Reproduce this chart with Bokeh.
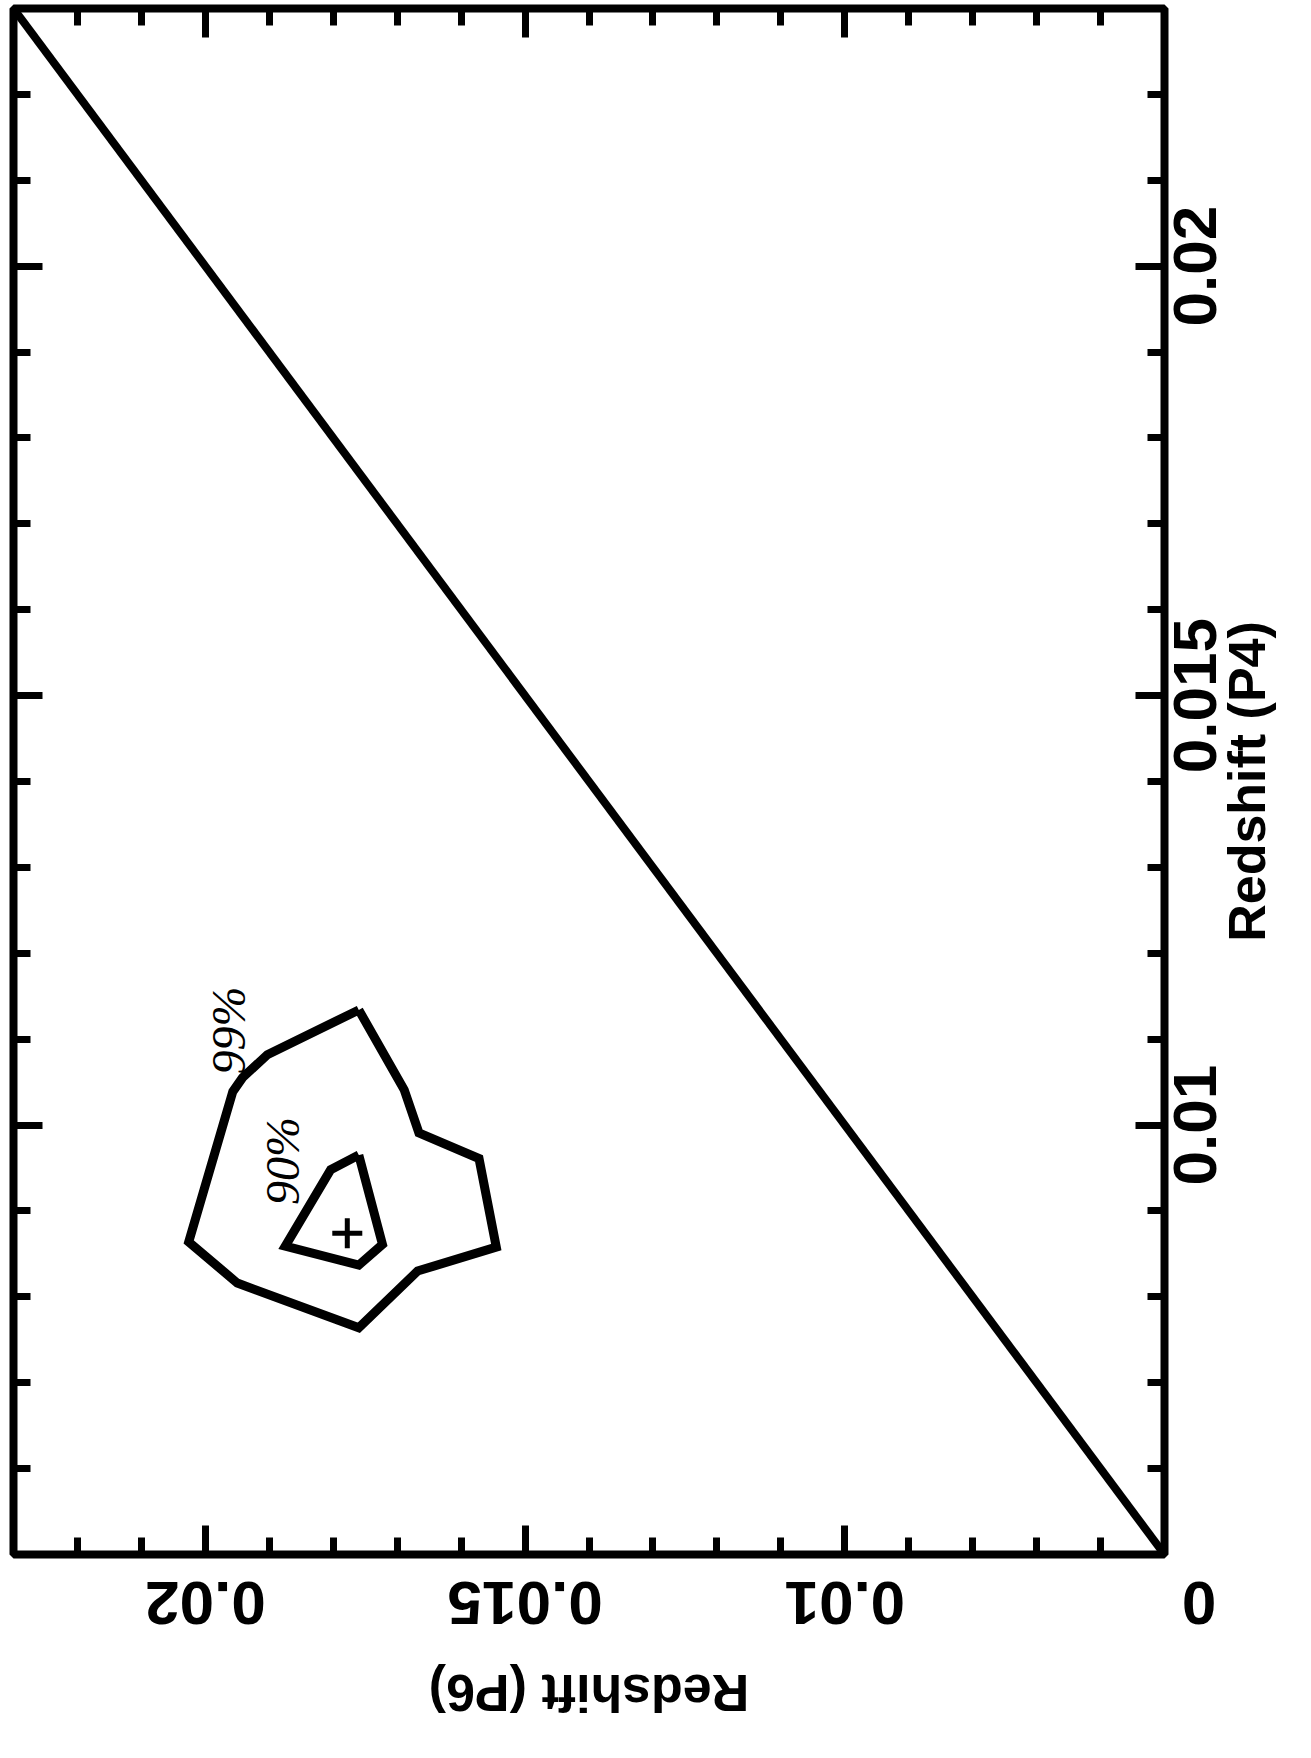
from math import pi
from bokeh.plotting import figure
from bokeh.models import Range1d, LinearAxis, FixedTicker, CustomLabelingPolicy
from bokeh.core.properties import value
from bokeh.embed import file_html
from bokeh.resources import INLINE

# ---------------- data ----------------
P_MIN = 0.005
P_MAX = 0.023
P_MID = 0.014
major_ticks = [0.005, 0.01, 0.015, 0.02]
minor_ticks = [0.005, 0.006, 0.007, 0.008, 0.009, 0.010, 0.011, 0.012, 0.013,
               0.014, 0.015, 0.016, 0.017, 0.018, 0.019, 0.020, 0.021, 0.022, 0.023]
label_ticks = [0.01, 0.015, 0.02]
tick_labels = ["0.01", "0.015", "0.02"]
corner_tick = 0.005
corner_label = "0\u00a0"

# equality line P6 = P4
diag_p6 = [0.005, 0.023]
diag_p4 = [0.005, 0.023]

# 99% confidence contour
c99_p6 = [0.01760, 0.01903, 0.01942, 0.01957, 0.02026, 0.01950, 0.01760,
          0.01668, 0.01545, 0.01572, 0.01666, 0.01689, 0.01760]
c99_p4 = [0.01134, 0.01082, 0.01055, 0.01039, 0.00864, 0.00816, 0.00764,
          0.00830, 0.00858, 0.00961, 0.00991, 0.01041, 0.01134]

# 90% confidence contour
c90_p6 = [0.01760, 0.01804, 0.01875, 0.01760, 0.01723, 0.01760]
c90_p4 = [0.00965, 0.00948, 0.00859, 0.00837, 0.00861, 0.00965]

# best fit
best_p6 = [0.01778]
best_p4 = [0.00874]

contour_labels = ["99%", "90%"]
label_p6 = [0.01964, 0.01879]
label_p4 = [0.01110, 0.00958]

x_title = "Redshift (P6)"
y_title = "Redshift (P4)"

# ---------------- layout ----------------
W, H = 1310, 1756
BL, BT, BR, BB = 13, 8, 146, 202
FRAME_W = W - BL - BR
FRAME_H = H - BT - BB
TICK_FONT = 62
TITLE_FONT = 52
# Liberation Sans Bold advance widths (em)
ADV = {"0": 0.556, "1": 0.556, "2": 0.556, "4": 0.556, "5": 0.556, "6": 0.556,
       ".": 0.278, "R": 0.722, "e": 0.556, "d": 0.611, "s": 0.556, "h": 0.611,
       "i": 0.278, "f": 0.333, "t": 0.333, " ": 0.278, "(": 0.333, ")": 0.333,
       "P": 0.667}


def half_len(s, size):
    return sum(ADV[c] for c in s) * size / 2.0


dpp_x = (P_MAX - P_MIN) / FRAME_W
dpp_y = (P_MAX - P_MIN) / FRAME_H
# rotated labels are anchored at one end: shift anchors so the text centres on its tick
right_pos = [t - half_len(s, TICK_FONT) * dpp_y for t, s in zip(label_ticks, tick_labels)]
bottom_pos = [t + half_len(s, TICK_FONT) * dpp_x for t, s in zip(label_ticks, tick_labels)]
right_title_pos = P_MID - half_len(y_title, TITLE_FONT) * dpp_y
bottom_title_pos = P_MID + half_len(x_title, TITLE_FONT) * dpp_x

p = figure(width=W, height=H,
           x_range=Range1d(P_MAX, P_MIN), y_range=Range1d(P_MIN, P_MAX),
           x_axis_location=None, y_axis_location=None,
           output_backend="svg", toolbar_location=None,
           min_border_left=BL, min_border_top=BT,
           min_border_right=BR, min_border_bottom=BB)
p.background_fill_color = "white"
p.border_fill_color = "white"
p.outline_line_color = "black"
p.outline_line_width = 8
p.grid.visible = False

HIDE_ALL = """
try { for (let i = 0; i < indices.size; i++) { indices.unset(i) } } catch (e) {}
return indices
"""


def tick_axis():
    ax = LinearAxis(ticker=FixedTicker(ticks=major_ticks, minor_ticks=minor_ticks))
    ax.axis_line_color = None
    ax.major_tick_in = 29
    ax.major_tick_out = 0
    ax.minor_tick_in = 17
    ax.minor_tick_out = 0
    ax.major_tick_line_width = 7
    ax.minor_tick_line_width = 7
    ax.major_tick_line_color = "black"
    ax.minor_tick_line_color = "black"
    ax.major_label_overrides = {t: "" for t in major_ticks}
    ax.major_label_text_font_size = "0px"
    ax.major_label_standoff = 0
    ax.major_label_policy = CustomLabelingPolicy(code=HIDE_ALL)
    return ax


def label_axis(positions, labels, orientation, standoff, size):
    ax = LinearAxis(ticker=FixedTicker(ticks=positions, minor_ticks=[]))
    ax.axis_line_color = None
    ax.major_tick_in = 0
    ax.major_tick_out = 0
    ax.minor_tick_in = 0
    ax.minor_tick_out = 0
    ax.major_tick_line_color = None
    ax.minor_tick_line_color = None
    ax.major_label_overrides = dict(zip(positions, labels))
    ax.major_label_text_font = "Liberation Sans"
    ax.major_label_text_font_style = "bold"
    ax.major_label_text_font_size = f"{size}px"
    ax.major_label_text_color = "black"
    ax.major_label_orientation = orientation
    ax.major_label_standoff = standoff
    return ax


# bottom: ticks | title | tick labels (pulled back inwards with a negative standoff)
p.add_layout(tick_axis(), "below")
p.add_layout(label_axis([bottom_title_pos], [x_title], pi, 138, TITLE_FONT), "below")
p.add_layout(label_axis(bottom_pos + [corner_tick], tick_labels + [corner_label],
                        pi, -150, TICK_FONT), "below")
p.add_layout(tick_axis(), "above")
p.add_layout(tick_axis(), "left")
# right: ticks | title | tick labels
p.add_layout(tick_axis(), "right")
p.add_layout(label_axis([right_title_pos], [y_title], pi / 2, 83, TITLE_FONT), "right")
p.add_layout(label_axis(right_pos, tick_labels, pi / 2, -113, TICK_FONT), "right")

# equality line
p.line(diag_p6, diag_p4, line_color="black", line_width=8)

# contours
p.line(c99_p6, c99_p4, line_color="black", line_width=9, line_join="miter")
p.line(c90_p6, c90_p4, line_color="black", line_width=9, line_join="miter")

# best fit
p.scatter(best_p6, best_p4, marker="cross", size=30, line_width=5,
          line_color="black")

# contour labels
p.text(label_p6, label_p4, text=contour_labels, angle=pi / 2,
       text_font=value("Liberation Serif"), text_font_style="italic",
       text_font_size="48px", text_align="center", text_baseline="middle",
       text_color="black")

open("out.html", "w").write(file_html(p, INLINE))
